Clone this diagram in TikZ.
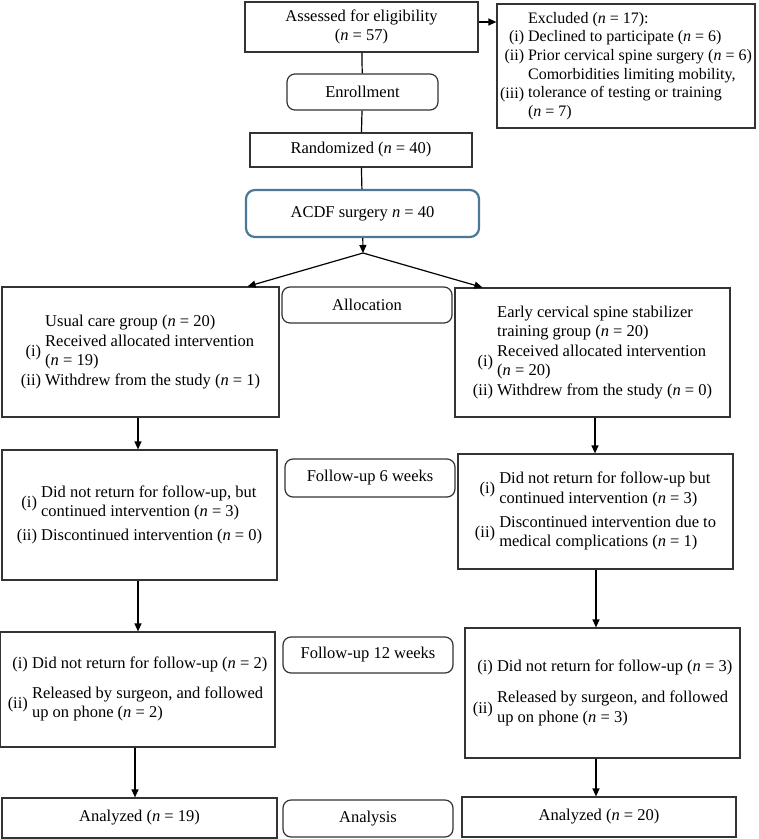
\documentclass[tikz,border=0pt]{standalone}
\usepackage{fontspec}
\setmainfont{Liberation Serif}
\usetikzlibrary{arrows.meta}
\definecolor{acdfblue}{HTML}{4A7896}
\newcommand{\nn}[1]{(\textit{n} = #1)}
\newcommand{\twoline}[1]{\begin{tabular}[c]{@{}l@{}}#1\end{tabular}}

\begin{document}
\begin{tikzpicture}[x=1pt,y=-1pt,
    box/.style={draw=black!80,line width=1.2pt,inner sep=0pt,align=center,
      font=\fontsize{16.5}{19.5}\selectfont},
    stage/.style={box,rounded corners=8pt},
    line/.style={line width=1.2pt},
    arr/.style={line width=1.2pt,-{Triangle[length=8pt,width=7pt]}}]
    \useasboundingbox (0,0) rectangle (759,839);
    \node[box,minimum width=233,minimum height=50] (assess) at (361.5,27) {Assessed for eligibility\\\nn{57}};
    \node[box,font=\fontsize{16}{18.6}\selectfont,minimum width=258,minimum height=124] (excl) at (626,66) {\begin{tabular}{@{}r@{\ }l@{}}
        & Excluded \nn{17}:\\
        (i) & Declined to participate \nn{6}\\
        (ii) & Prior cervical spine surgery \nn{6}\\
        (iii) & \twoline{Comorbidities limiting mobility,\\tolerance of testing or training\\\nn{7}}
      \end{tabular}};
    \node[stage,minimum width=151,minimum height=36] (enroll) at (362.5,92) {Enrollment};
    \node[box,minimum width=222,minimum height=34] (rand) at (361,150) {Randomized \nn{40}};
    \node[stage,draw=acdfblue,line width=2.2pt,rounded corners=9pt,minimum width=233,minimum height=47] (acdf) at (362.5,213.5) {ACDF surgery \textit{n} = 40};
    \coordinate (split) at (363,253);
    % allocation
    \node[box,minimum width=277,minimum height=130] (usual) at (140.5,352) {\begin{tabular}{@{}r@{\ }l@{}}
        & Usual care group \nn{20}\\
        (i) & \twoline{Received allocated intervention\\\nn{19}}\\
        (ii) & Withdrew from the study \nn{1}
      \end{tabular}};
    \node[stage,minimum width=170,minimum height=36] (alloc) at (367,305) {Allocation};
    \node[box,minimum width=275,minimum height=129] (early) at (592.5,352.5) {\begin{tabular}{@{}r@{\ }l@{}}
        & Early cervical spine stabilizer\\
        & training group \nn{20}\\
        (i) & \twoline{Received allocated intervention\\\nn{20}}\\
        (ii) & Withdrew from the study \nn{0}
      \end{tabular}};
    % follow-up 6 weeks
    \node[box,minimum width=275,minimum height=130] (usualsix) at (139.5,515) {\begin{tabular}{@{}r@{\ }l@{}}
        (i) & \twoline{Did not return for follow-up, but\\continued intervention \nn{3}}\\[14pt]
        (ii) & Discontinued intervention \nn{0}
      \end{tabular}};
    \node[stage,minimum width=170,minimum height=38] (fusix) at (370,478) {Follow-up 6 weeks};
    \node[box,minimum width=275,minimum height=115] (earlysix) at (595.5,511.5) {\begin{tabular}{@{}r@{\ }l@{}}
        (i) & \twoline{Did not return for follow-up but\\continued intervention \nn{3}}\\[14pt]
        (ii) & \twoline{Discontinued intervention due to\\medical complications \nn{1}}
      \end{tabular}};
    % follow-up 12 weeks
    \node[box,minimum width=275,minimum height=115] (usualtwelve) at (137.5,689.5) {\begin{tabular}{@{}r@{\ }l@{}}
        (i) & Did not return for follow-up \nn{2}\\[10pt]
        (ii) & \twoline{Released by surgeon, and followed\\up on phone \nn{2}}
      \end{tabular}};
    \node[stage,minimum width=170,minimum height=36] (futwelve) at (368,655) {Follow-up 12 weeks};
    \node[box,minimum width=275,minimum height=130] (earlytwelve) at (602.5,693) {\begin{tabular}{@{}r@{\ }l@{}}
        (i) & Did not return for follow-up \nn{3}\\[12pt]
        (ii) & \twoline{Released by surgeon, and followed\\up on phone \nn{3}}
      \end{tabular}};
    % analysis
    \node[box,minimum width=275,minimum height=40] (usualdone) at (139.5,818) {Analyzed \nn{19}};
    \node[stage,minimum width=170,minimum height=37] (analysis) at (368,818.5) {Analysis};
    \node[box,minimum width=274,minimum height=40] (earlydone) at (599,817) {Analyzed \nn{20}};

    \draw[arr] ([yshift=5]assess.east) -- ([yshift=5]assess.east -| excl.west);
    \draw[line] (assess) -- (enroll);
    \draw[line] (enroll) -- (rand);
    \draw[line] (rand) -- (acdf);
    \draw[arr] (acdf) -- (split);
    \draw[arr] (split) -- ([xshift=-32]usual.north east);
    \draw[arr] (split) -- ([xshift=28]early.north west);
    \draw[arr] ([xshift=-2.5]usual.south) -- ([xshift=-2.5]usual.south |- usualsix.north);
    \draw[arr] ([xshift=-1.5]usualsix.south) -- ([xshift=-1.5]usualsix.south |- usualtwelve.north);
    \draw[arr] ([xshift=-2.5]usualtwelve.south) -- ([xshift=-2.5]usualtwelve.south |- usualdone.north);
    \draw[arr] ([xshift=2.5]early.south) -- ([xshift=2.5]early.south |- earlysix.north);
    \draw[arr] ([xshift=0.5]earlysix.south) -- ([xshift=0.5]earlysix.south |- earlytwelve.north);
    \draw[arr] ([xshift=-6.5]earlytwelve.south) -- ([xshift=-6.5]earlytwelve.south |- earlydone.north);
\end{tikzpicture}
\end{document}
